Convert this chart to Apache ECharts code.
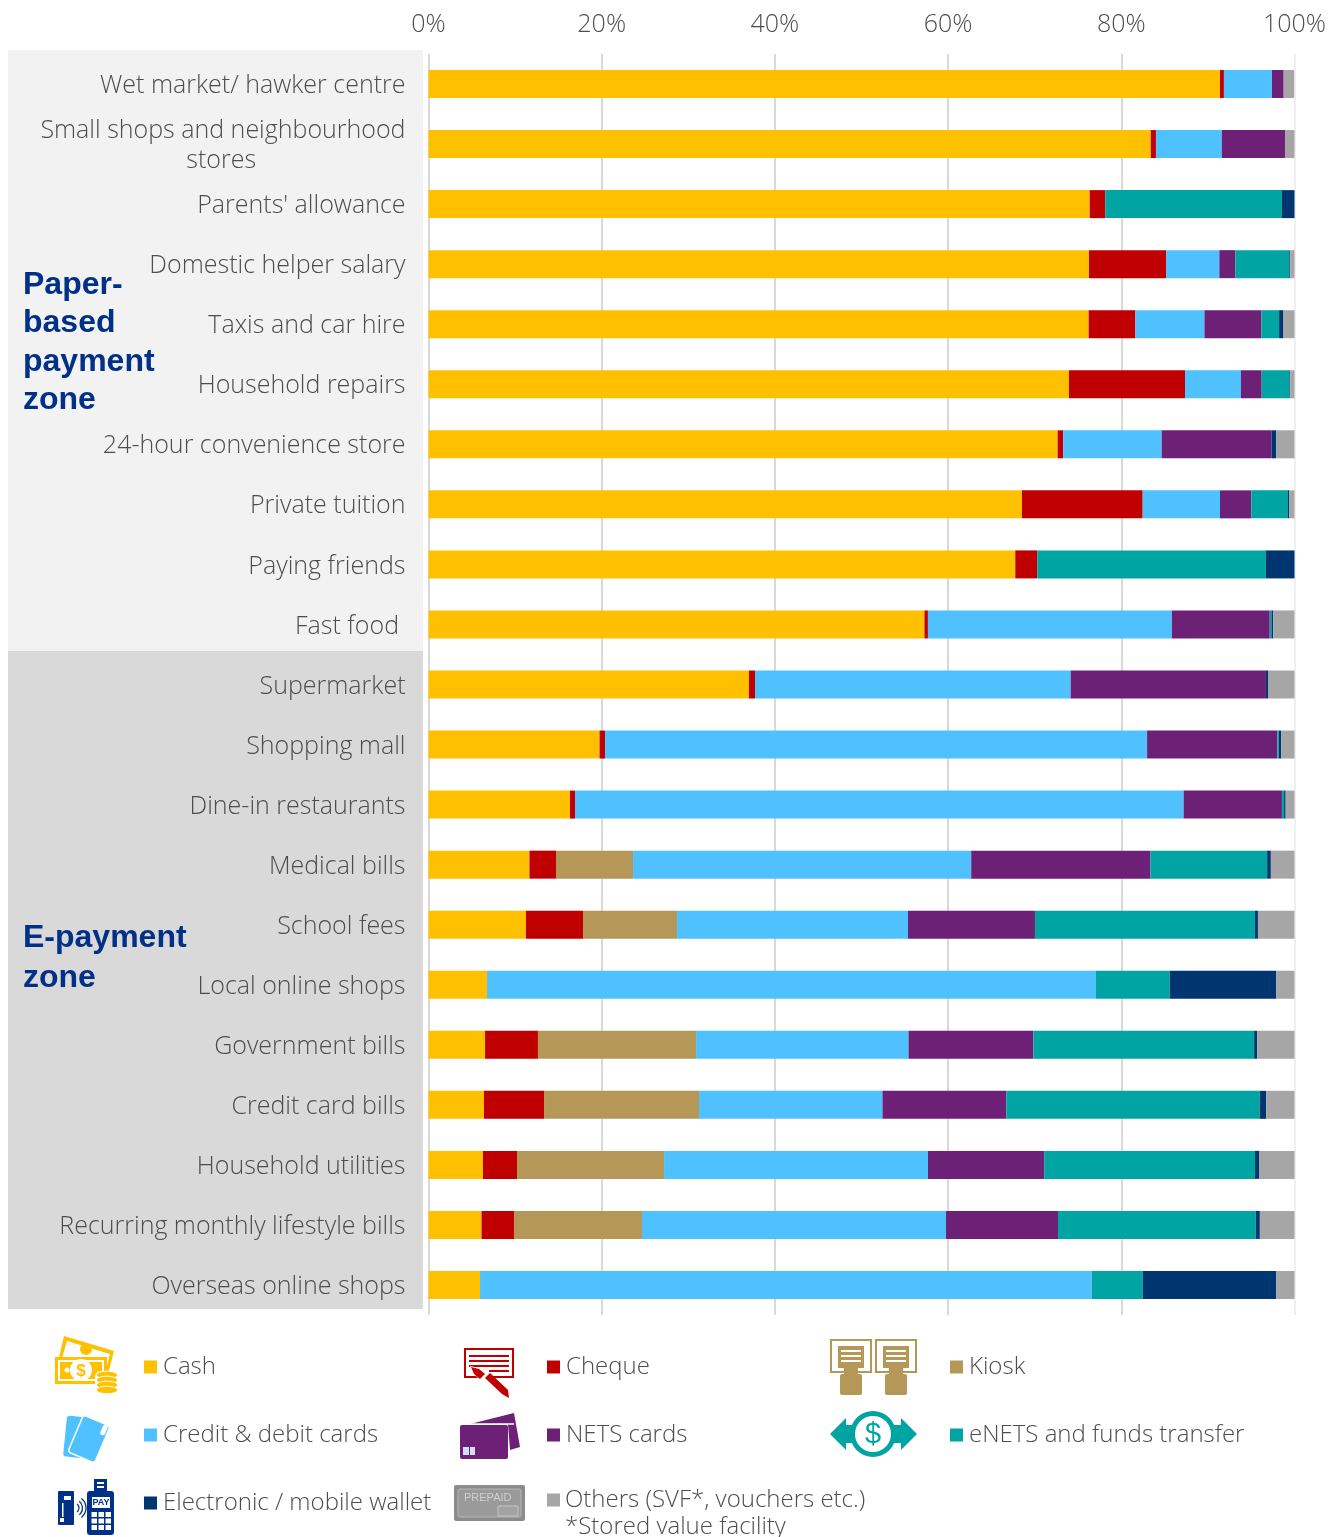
<!DOCTYPE html>
<html><head><meta charset="utf-8">
<style>html,body{margin:0;padding:0;background:#fff}#c{width:1343px;height:1537px}</style>
<script src="https://cdn.jsdelivr.net/npm/echarts@6/dist/echarts.min.js"></script>
</head><body><div id="c"></div>
<script>
const categories = ["Wet market/ hawker centre","Small shops and neighbourhood\nstores","Parents' allowance","Domestic helper salary","Taxis and car hire","Household repairs","24-hour convenience store","Private tuition","Paying friends","Fast food","Supermarket","Shopping mall","Dine-in restaurants","Medical bills","School fees","Local online shops","Government bills","Credit card bills","Household utilities","Recurring monthly lifestyle bills","Overseas online shops"];
const cash   = [91.4,83.4,76.35,76.27,76.23,73.96,72.65,68.53,67.76,57.27,37.0,19.75,16.34,11.66,11.26,6.76,6.53,6.41,6.29,6.12,5.95];
const cheque = [0.45,0.6,1.8,8.9,5.4,13.4,0.65,13.94,2.54,0.4,0.7,0.63,0.58,3.06,6.58,0,6.11,6.93,3.93,3.75,0];
const kiosk  = [0,0,0,0,0,0,0,0,0,0,0,0,0,8.9,10.86,0,18.26,17.9,16.98,14.78,0];
const cards  = [5.55,7.6,0,6.15,7.97,6.45,11.36,8.93,0,28.17,36.45,62.6,70.28,39.05,26.67,70.32,24.53,21.18,30.48,35.11,70.63];
const nets   = [1.35,7.3,0,1.85,6.58,2.4,12.7,3.62,0,11.3,22.55,15.05,11.35,20.7,14.66,0,14.41,14.3,13.42,12.93,0];
const enets  = [0,0,20.4,6.23,2.04,3.2,0,4.23,26.4,0.2,0,0.15,0.25,13.47,25.4,8.52,25.5,29.26,24.34,22.83,5.89];
const wallet = [0,0,1.45,0.1,0.5,0.1,0.53,0.12,3.3,0.2,0.24,0.27,0.18,0.43,0.35,12.3,0.35,0.76,0.46,0.48,15.43];
const others = [1.2,1.1,0,0.5,1.3,0.6,2.1,0.63,0,2.45,3.06,1.56,1.02,2.75,4.21,2.1,4.33,3.26,4.1,4.0,2.1];
const tickLabels = [0,20,40,60,80,100];

const C = {cash:'#FFC000',cheque:'#C00000',kiosk:'#B59858',cards:'#4FC1FF',nets:'#6C2177',enets:'#00A5A3',wallet:'#00366F',others:'#A6A6A6'};
const FONT = 'Open Sans', TXT = '#4D4D4D', FS = 25, WT = 300;
const BOLD = 'bold 32px "Liberation Sans"', NAVY = '#003087';
const seriesDefs = [
 ['Cash',cash,C.cash],['Cheque',cheque,C.cheque],['Kiosk',kiosk,C.kiosk],['Credit & debit cards',cards,C.cards],
 ['NETS cards',nets,C.nets],['eNETS and funds transfer',enets,C.enets],['Electronic / mobile wallet',wallet,C.wallet],['Others (SVF*, vouchers etc.)',others,C.others]
];
const legendPos = {'Cash':[144,1355],'Cheque':[547,1355],'Kiosk':[950,1355],'Credit & debit cards':[144,1423],'NETS cards':[547,1423],'eNETS and funds transfer':[950,1423],'Electronic / mobile wallet':[144,1491],'Others (SVF*, vouchers etc.)':[547,1488]};

function rect(x,y,w,h,fill,extra){return Object.assign({type:'rect',shape:{x,y,width:w,height:h,r:(extra&&extra.r)||0},style:{fill:fill}},extra&&extra.o||{});}
function box(x,y,w,h,stroke,lw){return {type:'rect',shape:{x,y,width:w,height:h},style:{fill:'#fff',stroke,lineWidth:lw}};}
function poly(pts,fill){return {type:'polygon',shape:{points:pts},style:{fill}};}
function txt(x,y,t,font,fill,align){return {type:'text',x,y,style:{text:t,font,fill,align:align||'left',verticalAlign:'middle'}};}
function circ(cx,cy,r,fill,stroke,lw){return {type:'circle',shape:{cx,cy,r},style:{fill,stroke:stroke||null,lineWidth:lw||0}};}
function line(x1,y1,x2,y2,stroke,lw){return {type:'line',shape:{x1,y1,x2,y2},style:{stroke,lineWidth:lw}};}

const icons = [];
const bgs = [rect(8,50,415,601,'#F2F2F2'),rect(8,651,415,658,'#D9D9D9')];
// cash
icons.push(poly([[64,1336],[114,1351],[107,1378],[58,1362]],C.cash),poly([[67,1341],[110,1354],[105,1372],[62,1358]],'#fff'),
 circ(86,1349,6,C.cash),
 rect(55,1357,52,27,C.cash),rect(58,1360,46,21,'#fff'),rect(60,1362,42,17,C.cash),circ(81,1370,11,'#fff'),circ(67,1370,2.5,'#fff'),
 txt(81,1371,'$','bold 17px "Liberation Sans"',C.cash,'center'),
 rect(95,1371,24,24,'#fff',{r:6}));
[1375,1380,1385,1390].forEach(y=>icons.push({type:'ellipse',shape:{cx:107,cy:y,rx:10.5,ry:3.8},style:{fill:C.cash,stroke:'#fff',lineWidth:1}}));
// cheque
icons.push(box(465,1349,48,28,C.cheque,2),rect(469,1355,40,2,C.cheque),rect(469,1360,40,2,C.cheque),rect(469,1365,40,2,C.cheque),rect(489,1370,20,2,C.cheque),
 poly([[470,1366],[479,1368],[509,1397],[500,1394],[473,1374]],'#fff'),
 poly([[471,1367],[479,1369],[485,1374],[480,1379],[474,1374]],C.cheque),poly([[485,1378],[490,1373],[508,1390],[509,1398],[502,1394]],C.cheque));
// kiosk
[831,876].forEach(x=>{icons.push(box(x,1340,40,32,C.kiosk,2),rect(x+7,1346,26,22,C.kiosk),rect(x+10,1350,20,2,'#fff'),rect(x+10,1355,20,2,'#fff'),rect(x+10,1360,20,2,'#fff'),
 rect(x+13,1366,14,9,C.kiosk),rect(x+9,1374,22,21,C.kiosk,{r:2}));});
// credit cards
const rc=(cx,cy,w,h,rot,fill,stroke)=>({type:'rect',x:cx,y:cy,rotation:rot,shape:{x:-w/2,y:-h/2,width:w,height:h,r:3},style:{fill,stroke:stroke||null,lineWidth:stroke?1.5:0}});
icons.push(rc(76,1437,22,41,-0.1,C.cards),rc(89,1439,29,40,-0.4,C.cards,'#fff'),rc(104,1430,5,11,-0.4,'#fff'));
// nets
icons.push(poly([[470,1424],[514,1413],[520,1447],[510,1450],[508,1424]],C.nets),line(468,1424,514,1424,'#fff',1.5),rect(460,1425,48,34,C.nets,{r:2}),rect(463,1447,12,8,'#CFE0F5'),rect(469,1447,1,8,C.nets));
// enets
icons.push(poly([[830,1434],[846,1418],[846,1450]],C.enets),poly([[917,1434],[901,1418],[901,1450]],C.enets),rect(846,1425,55,18,C.enets),circ(873,1434,23,C.enets),circ(873,1434,18,'#fff'),
 txt(873,1435,'$','29px "Liberation Sans"',C.enets,'center'));
// wallet
const W=NAVY;
icons.push(rect(58,1491,16,34,W,{r:1}),rect(64,1496,7,4,'#fff'),rect(62,1503,1.5,14,'#fff'),rect(60,1518,4,4,'#fff'),
 {type:'arc',shape:{cx:74,cy:1508,r:5,startAngle:-0.9,endAngle:0.9},style:{stroke:W,lineWidth:1.3,fill:null}},
 {type:'arc',shape:{cx:74,cy:1508,r:8.5,startAngle:-0.9,endAngle:0.9},style:{stroke:W,lineWidth:1.3,fill:null}},
 {type:'arc',shape:{cx:74,cy:1508,r:12,startAngle:-0.9,endAngle:0.9},style:{stroke:W,lineWidth:1.3,fill:null}},
 rect(94,1479,13,15,W),rect(97,1482,7,2,'#fff'),rect(97,1486,7,2,'#fff'),rect(87,1491,27,44,W,{r:3}),rect(92,1497,18,11,'#fff'),
 txt(101,1503,'PAY','bold 9px "Liberation Sans"',W,'center'));
[0,1,2].forEach(r=>[0,1,2].forEach(c=>icons.push(rect(91.5+c*7,1512+r*6.5,5.5,5,'#fff'))));
// prepaid
icons.push(rect(454,1485,71,36,'#8C8C8C',{r:2}),{type:'rect',shape:{x:458,y:1489,width:63,height:28,r:2},style:{fill:'#9A9A9A',stroke:'#B5B5B5',lineWidth:1}},
 txt(464,1498,'PREPAID','11px "Liberation Sans"','#D0D0D0'),{type:'rect',shape:{x:498,y:1506,width:20,height:10},style:{fill:'#A3A3A3',stroke:'#C4C4C4',lineWidth:1}});

const labels = [
 txt(23,285,'Paper-',BOLD,NAVY),txt(23,323,'based',BOLD,NAVY),
 txt(23,362,'payment',BOLD,NAVY),txt(23,400,'zone',BOLD,NAVY),
 txt(23,938,'E-payment',BOLD,NAVY),txt(23,978,'zone',BOLD,NAVY),
 txt(565,1527,'*Stored value facility','300 24px "'+FONT+'"',TXT)
];

const chart = echarts.init(document.getElementById('c'),null,{renderer:'canvas'});
chart.setOption({
 animation:false,
 backgroundColor:'#fff',
 grid:{left:428.5,top:54,width:866,height:1261,containLabel:false},
 xAxis:{type:'value',position:'top',min:0,max:100,interval:20,
  axisLine:{show:false},axisTick:{show:false},
  axisLabel:{color:TXT,fontFamily:FONT,fontSize:25,fontWeight:WT,margin:17,formatter:v=>v+'%',hideOverlap:false,showMinLabel:true,showMaxLabel:true},
  splitLine:{show:true,lineStyle:{color:['#D9D9D9','#D9D9D9','#D9D9D9','#D9D9D9','#D9D9D9','#EFEFEF'],width:2}}},
 yAxis:{type:'category',inverse:true,data:categories,axisLine:{show:false},axisTick:{show:false},
  axisLabel:{margin:23,interval:0,align:'right',
   rich:{a:{color:TXT,fontFamily:FONT,fontSize:FS,fontWeight:WT,height:30,lineHeight:30,padding:[4,0,0,0]}},
   formatter:v=>{
     if(v.indexOf('\n')>=0){const p=v.split('\n');return '{a|'+p[0]+'}\n{a|'+p[1]+'\u00A0'.repeat(23)+'}';}
     if(v==='Fast food')return '{a|'+v+'\u00A0}';
     return '{a|'+v+'}';}}},
 legend:seriesDefs.map(d=>({data:[d[0]],left:legendPos[d[0]][0],top:legendPos[d[0]][1],icon:'rect',itemWidth:13,itemHeight:13,itemGap:0,padding:0,selectedMode:false,
   textStyle:{color:TXT,fontFamily:FONT,fontSize:24,fontWeight:WT,padding:d[0].startsWith('Others')?[0,0,5,0]:[0,0,0,1]}})),
 graphic:{elements:[{type:'group',silent:true,z:-10,children:bgs}, {type:'group',silent:true,z:10,children:icons.concat(labels)}]},
 series:seriesDefs.map(d=>({name:d[0],type:'bar',stack:'total',data:d[1],barWidth:28,itemStyle:{color:d[2]},silent:true}))
});
</script></body></html>
